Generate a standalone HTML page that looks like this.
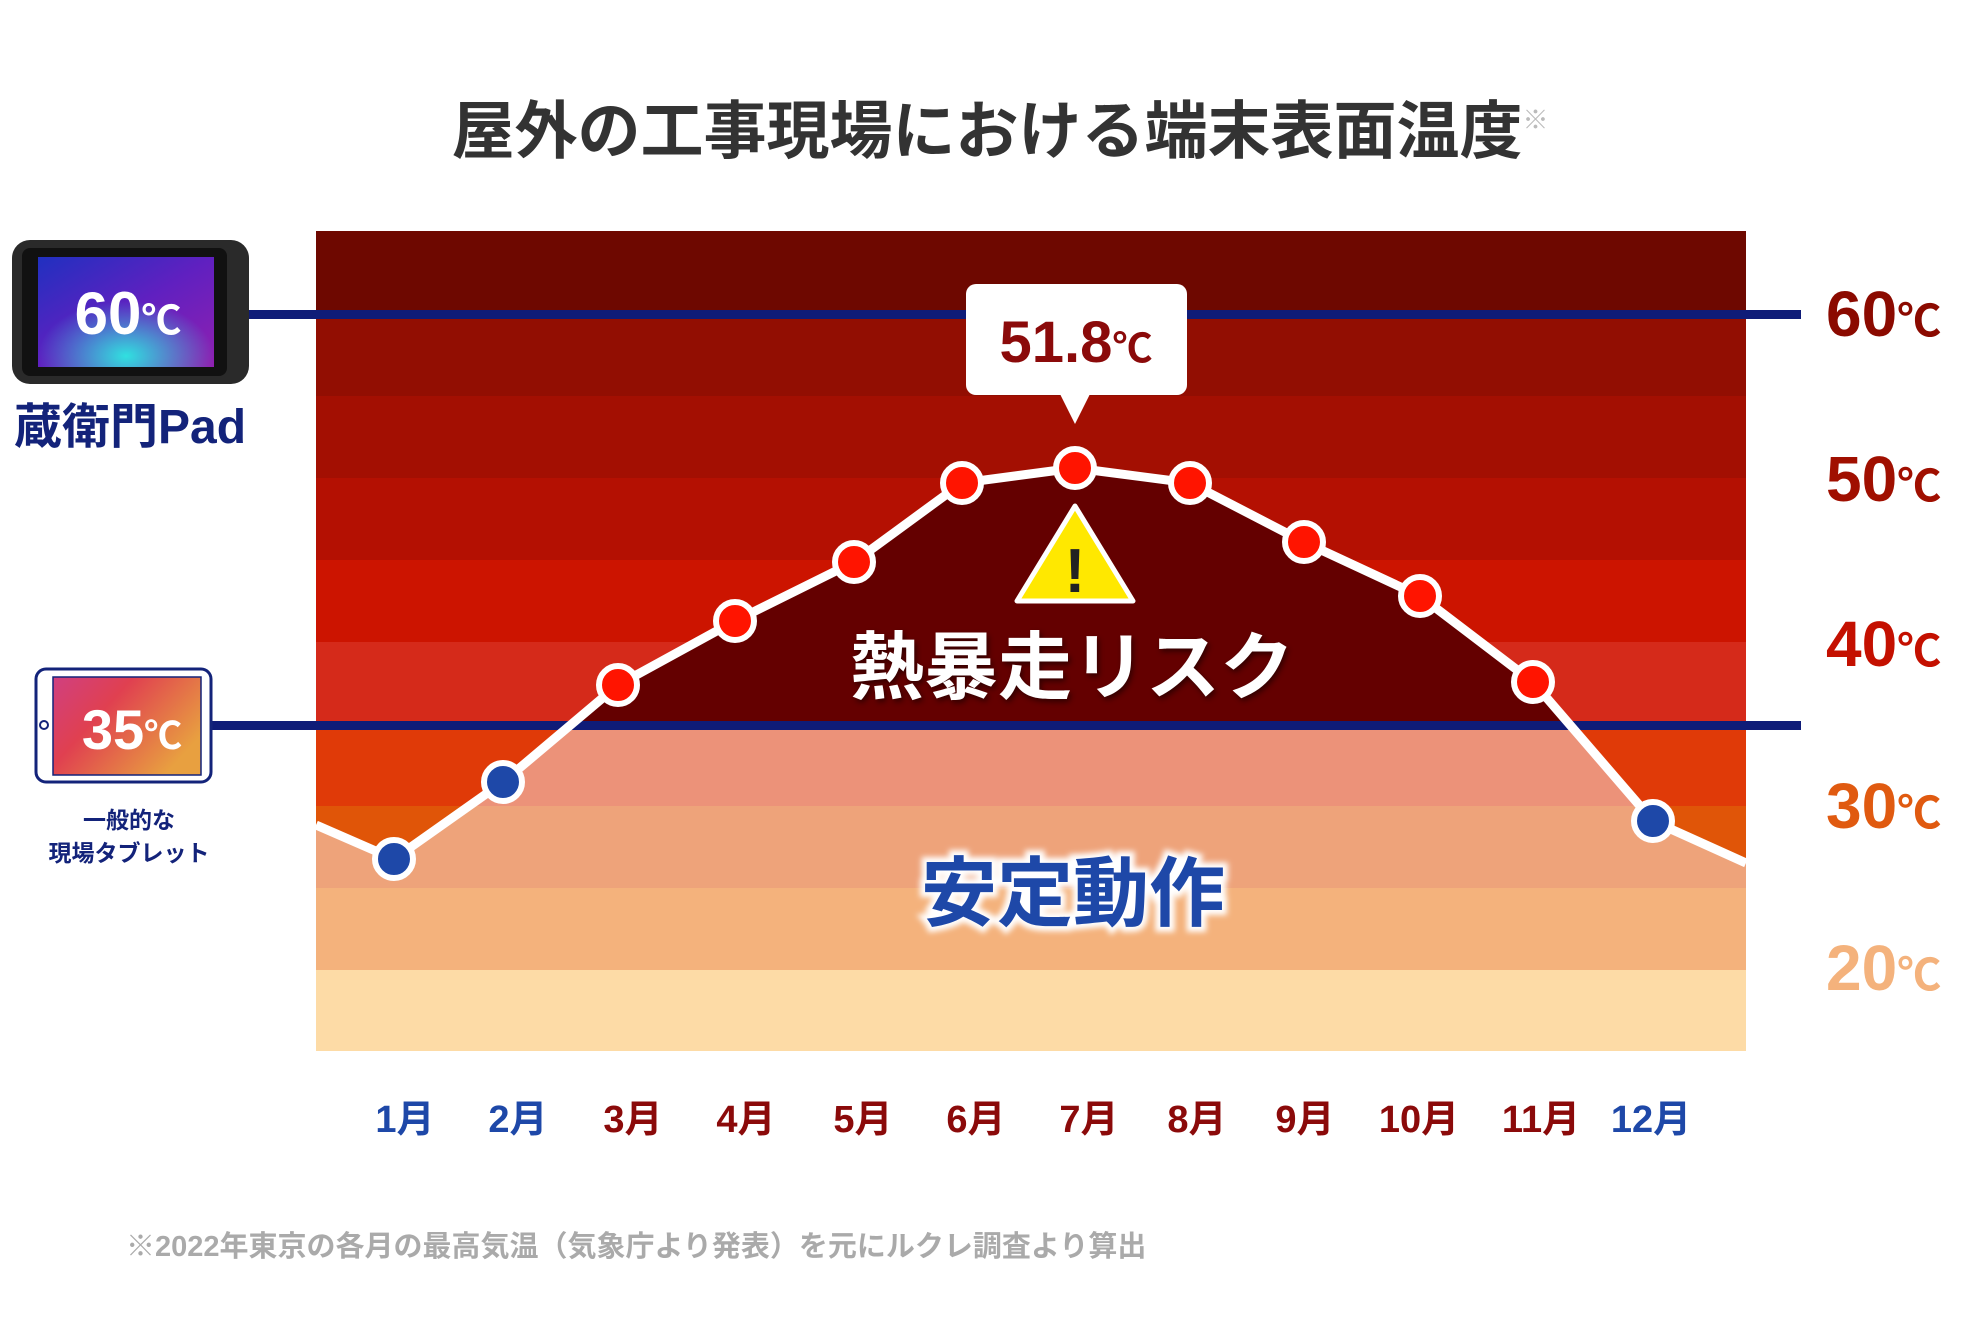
<!DOCTYPE html>
<html><head><meta charset="utf-8"><style>
html,body{margin:0;padding:0;background:#fff}
svg{display:block}
text{font-family:"Liberation Sans","Noto Sans CJK JP",sans-serif;font-weight:bold}
</style></head><body>
<svg width="1972" height="1332" viewBox="0 0 1972 1332" xmlns="http://www.w3.org/2000/svg">
<defs>
<clipPath id="below"><polygon points="316,825 394,859 503,782 618,685 735,621 854,562 962,483 1075,468 1190,483 1304,542 1420,596 1533,682 1653,821 1746,863 1746,1051 316,1051"/></clipPath>
<linearGradient id="scr" x1="0" y1="0" x2="1" y2="1"><stop offset="0" stop-color="#2030c0"/><stop offset="0.5" stop-color="#6020c0"/><stop offset="1" stop-color="#9020b0"/></linearGradient>
<radialGradient id="scr2" cx="0.5" cy="0.9" r="0.5"><stop offset="0" stop-color="#30e0e0"/><stop offset="1" stop-color="#30e0e0" stop-opacity="0"/></radialGradient>
<linearGradient id="ipd" x1="0" y1="0" x2="1" y2="0.6"><stop offset="0" stop-color="#d04080"/><stop offset="0.4" stop-color="#e04050"/><stop offset="1" stop-color="#e8a040"/></linearGradient>
<filter id="sh"><feGaussianBlur stdDeviation="3"/></filter>
</defs>
<text x="1000" y="153" font-size="63" fill="#333" text-anchor="middle">屋外の工事現場における端末表面温度<tspan font-size="26" fill="#bbb" dy="-24">※</tspan></text>
<rect x="316" y="231" width="1430" height="83" fill="#6e0800"/>
<rect x="316" y="314" width="1430" height="82" fill="#920e02"/>
<rect x="316" y="396" width="1430" height="82" fill="#a30f02"/>
<rect x="316" y="478" width="1430" height="82" fill="#b41002"/>
<rect x="316" y="560" width="1430" height="82" fill="#cc1400"/>
<rect x="316" y="642" width="1430" height="83" fill="#d52a1a"/>
<rect x="316" y="725" width="1430" height="81" fill="#e03a08"/>
<rect x="316" y="806" width="1430" height="82" fill="#e05508"/>
<rect x="316" y="888" width="1430" height="82" fill="#eea37a"/>
<rect x="316" y="970" width="1430" height="81" fill="#fddba6"/>
<g clip-path="url(#below)">
<rect x="316" y="231" width="1430" height="494" fill="#640000"/>
<rect x="316" y="725" width="1430" height="81" fill="#ec9279"/>
<rect x="316" y="806" width="1430" height="82" fill="#eea37a"/>
<rect x="316" y="888" width="1430" height="82" fill="#f4b27c"/>
<rect x="316" y="970" width="1430" height="81" fill="#fddba6"/>
</g>
<rect x="245" y="310" width="1556" height="9" fill="#0f1c78"/>
<rect x="205" y="721" width="1596" height="9" fill="#0f1c78"/>
<polyline points="316,825 394,859 503,782 618,685 735,621 854,562 962,483 1075,468 1190,483 1304,542 1420,596 1533,682 1653,821 1746,863" fill="none" stroke="#fff" stroke-width="9" stroke-linejoin="round"/>
<g stroke="#fff" stroke-width="6">
<circle cx="394" cy="859" r="19" fill="#1e48a8"/>
<circle cx="503" cy="782" r="19" fill="#1e48a8"/>
<circle cx="618" cy="685" r="19" fill="#ff1400"/>
<circle cx="735" cy="621" r="19" fill="#ff1400"/>
<circle cx="854" cy="562" r="19" fill="#ff1400"/>
<circle cx="962" cy="483" r="19" fill="#ff1400"/>
<circle cx="1075" cy="468" r="19" fill="#ff1400"/>
<circle cx="1190" cy="483" r="19" fill="#ff1400"/>
<circle cx="1304" cy="542" r="19" fill="#ff1400"/>
<circle cx="1420" cy="596" r="19" fill="#ff1400"/>
<circle cx="1533" cy="682" r="19" fill="#ff1400"/>
<circle cx="1653" cy="821" r="19" fill="#1e48a8"/>
</g>
<rect x="966" y="284" width="221" height="111" rx="10" fill="#fff"/>
<polygon points="1060,394 1090,394 1075,424" fill="#fff"/>
<text x="1076" y="362" font-size="58" fill="#8b0a0a" text-anchor="middle">51.8<tspan font-size="40">℃</tspan></text>
<polygon points="1075,506 1133,601 1017,601" fill="#ffe800" stroke="#fff" stroke-width="5" stroke-linejoin="round"/>
<text x="1075" y="592" font-size="62" fill="#222" text-anchor="middle">!</text>
<text x="1074" y="696" font-size="74" fill="#000" opacity="0.5" text-anchor="middle" filter="url(#sh)">熱暴走リスク</text>
<text x="1072" y="693" font-size="74" fill="#fff" text-anchor="middle">熱暴走リスク</text>
<text x="1073" y="920" font-size="76" fill="#fff" stroke="#fff" stroke-width="10" text-anchor="middle" filter="url(#sh)">安定動作</text>
<text x="1073" y="920" font-size="76" fill="#1e48a8" text-anchor="middle">安定動作</text>
<g font-size="38" text-anchor="middle">
<text x="405" y="1132" fill="#1e48a8">1月</text>
<text x="518" y="1132" fill="#1e48a8">2月</text>
<text x="633" y="1132" fill="#8b0a0a">3月</text>
<text x="746" y="1132" fill="#8b0a0a">4月</text>
<text x="863" y="1132" fill="#8b0a0a">5月</text>
<text x="976" y="1132" fill="#8b0a0a">6月</text>
<text x="1089" y="1132" fill="#8b0a0a">7月</text>
<text x="1197" y="1132" fill="#8b0a0a">8月</text>
<text x="1305" y="1132" fill="#8b0a0a">9月</text>
<text x="1419" y="1132" fill="#8b0a0a">10月</text>
<text x="1541" y="1132" fill="#8b0a0a">11月</text>
<text x="1651" y="1132" fill="#1e48a8">12月</text>
</g>
<g font-size="64">
<text x="1826" y="336" fill="#8b0a00">60<tspan font-size="44">℃</tspan></text>
<text x="1826" y="501" fill="#a00f00">50<tspan font-size="44">℃</tspan></text>
<text x="1826" y="666" fill="#c41000">40<tspan font-size="44">℃</tspan></text>
<text x="1826" y="828" fill="#e05a10">30<tspan font-size="44">℃</tspan></text>
<text x="1826" y="990" fill="#f4b27c">20<tspan font-size="44">℃</tspan></text>
</g>
<rect x="12" y="240" width="237" height="144" rx="18" fill="#2a2a2a"/>
<rect x="22" y="248" width="205" height="128" rx="8" fill="#111"/>
<rect x="38" y="257" width="176" height="110" fill="url(#scr)"/>
<rect x="38" y="257" width="176" height="110" fill="url(#scr2)"/>
<text x="128" y="334" font-size="60" fill="#fff" text-anchor="middle">60<tspan font-size="40">℃</tspan></text>
<text x="14" y="443" font-size="48" fill="#13237a">蔵衛門Pad</text>
<rect x="36" y="669" width="175" height="113" rx="10" fill="#fff" stroke="#13237a" stroke-width="3"/>
<rect x="53" y="677" width="148" height="98" fill="url(#ipd)" stroke="#13237a" stroke-width="1.5"/>
<circle cx="44" cy="725" r="4" fill="none" stroke="#13237a" stroke-width="2"/>
<text x="132" y="749" font-size="56" fill="#fff" text-anchor="middle">35<tspan font-size="38">℃</tspan></text>
<text x="129" y="828" font-size="23" fill="#13237a" text-anchor="middle">一般的な</text>
<text x="129" y="861" font-size="23" fill="#13237a" text-anchor="middle">現場タブレット</text>
<text x="126" y="1256" font-size="29" fill="#aaa">※2022年東京の各月の最高気温（気象庁より発表）を元にルクレ調査より算出</text>
</svg>
</body></html>
